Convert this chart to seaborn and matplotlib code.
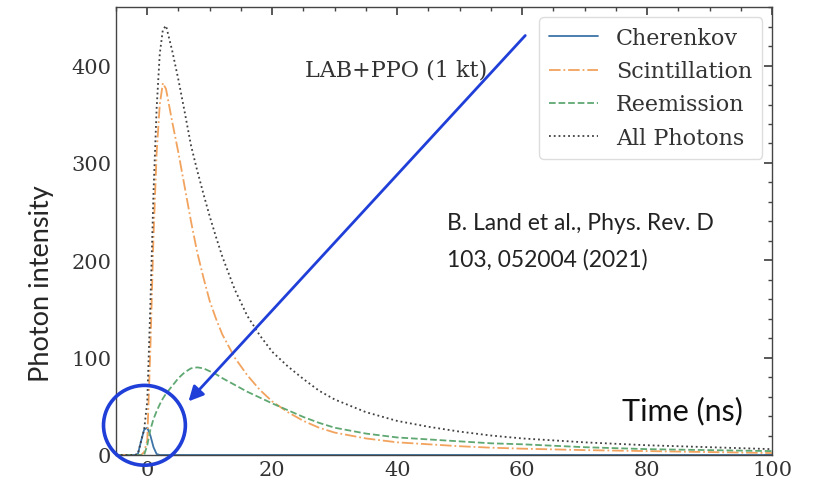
import numpy as np
import pandas as pd
import matplotlib
matplotlib.use('Agg')
import matplotlib.pyplot as plt
import seaborn as sns
from matplotlib.patches import Ellipse
from matplotlib.ticker import MultipleLocator

# Valeurs (temps en ns, intensité en photons)
time_ns = [-5, -2, -1.5, -1, -0.5, 0, 0.5, 1, 1.5, 2, 2.5, 3, 4, 5, 6, 7, 8, 9, 10,
           11, 12, 14, 16, 18, 20, 22.5, 25, 27.5, 30, 35, 40, 45, 50, 55, 60, 70, 80, 90, 100]
cherenkov = [0, 0, 1, 14, 26, 28, 20, 8, 1, 0, 0, 0, 0, 0, 0, 0, 0, 0, 0,
             0, 0, 0, 0, 0, 0, 0, 0, 0, 0, 0, 0, 0, 0, 0, 0, 0, 0, 0, 0]
scintillation = [0, 0, 0, 0, 3, 15, 110, 225, 310, 360, 382, 376, 342, 310, 275, 240, 208, 182, 158,
                 140, 124, 100, 82, 67, 55, 44, 35, 28, 23, 17, 13, 11, 9, 7.5, 6.5, 5, 4, 3, 2]
reemission = [0, 0, 0, 0, 0, 10, 26, 37, 45, 52, 58, 63, 71, 79, 85, 89, 90, 89, 86,
              83, 79, 72, 65, 59, 53, 46, 39, 33, 28, 22, 18, 16, 14, 12, 11, 8, 6, 5, 4]
all_photons = [0, 0, 1, 14, 26, 55, 155, 270, 356, 412, 437, 441, 415, 385, 352, 318, 292, 268, 245,
               224, 204, 170, 143, 123, 106, 91, 78, 66, 57, 44, 35, 29, 24, 20, 17, 13, 10, 8, 6]

df = pd.DataFrame({'t': time_ns, 'Cherenkov': cherenkov, 'Scintillation': scintillation,
                   'Reemission': reemission, 'All Photons': all_photons})

sns.set_theme(style='white')
plt.rcParams['font.family'] = ['DejaVu Serif']

fig = plt.figure(figsize=(8.13, 4.81), dpi=100)
ax = fig.add_axes([0.1427, 0.052, 0.807, 0.931])

sns.lineplot(data=df, x='t', y='Cherenkov', ax=ax, color='#3d74a8', lw=1.3, ls='-', label='Cherenkov')
sns.lineplot(data=df, x='t', y='Scintillation', ax=ax, color='#f2a35e', lw=1.3, ls='-.', label='Scintillation')
sns.lineplot(data=df, x='t', y='Reemission', ax=ax, color='#5fa872', lw=1.3, ls='--', label='Reemission')
sns.lineplot(data=df, x='t', y='All Photons', ax=ax, color='#404040', lw=1.3, ls=':', label='All Photons')

ax.set_xlim(-5, 100)
ax.set_ylim(0, 460)
ax.set_xlabel('')
ax.set_ylabel('Photon intensity', family='Lato', fontsize=19.5)
ax.yaxis.set_label_coords(-0.095, 0.384)
ax.xaxis.set_major_locator(MultipleLocator(20))
ax.xaxis.set_minor_locator(MultipleLocator(5))
ax.yaxis.set_major_locator(MultipleLocator(100))
ax.yaxis.set_minor_locator(MultipleLocator(20))
ax.tick_params(which='both', direction='in', top=True, right=True, colors='#444444',
               labelcolor='#333333', labelsize=15)
ax.tick_params(which='major', length=6)
ax.tick_params(which='minor', length=3)
for s in ax.spines.values():
    s.set_color('#444444')
    s.set_linewidth(1.0)

leg = ax.legend(loc='upper right', fontsize=16, frameon=True, handlelength=2.2,
                labelspacing=0.5, borderpad=0.45, fancybox=True, framealpha=1,
                borderaxespad=0.45)
leg.get_frame().set_edgecolor('#dddddd')
for txt in leg.get_texts():
    txt.set_color('#333333')

ax.text(25.3, 396, 'LAB+PPO (1 kt)', fontsize=16, color='#333333', va='center')
ax.text(48.0, 220, 'B. Land et al., Phys. Rev. D\n103, 052004 (2021)', family='Lato',
        fontsize=16.5, color='#222222', va='center', linespacing=1.9)
ax.text(95.4, 46, 'Time (ns)', family='Lato', fontsize=22, color='#111111', ha='right', va='center')

# annotation bleue
blue = '#1f3fd8'
ax.add_patch(Ellipse((-0.45, 30.5), 13.1, 82, fill=False, ec=blue, lw=2.6, clip_on=False, zorder=5))
ax.annotate('', xy=(6.3, 53), xytext=(60.8, 433),
            arrowprops=dict(arrowstyle='-|>', color=blue, lw=2.0, mutation_scale=22))

fig.savefig('out.png', dpi=100, facecolor='white')
